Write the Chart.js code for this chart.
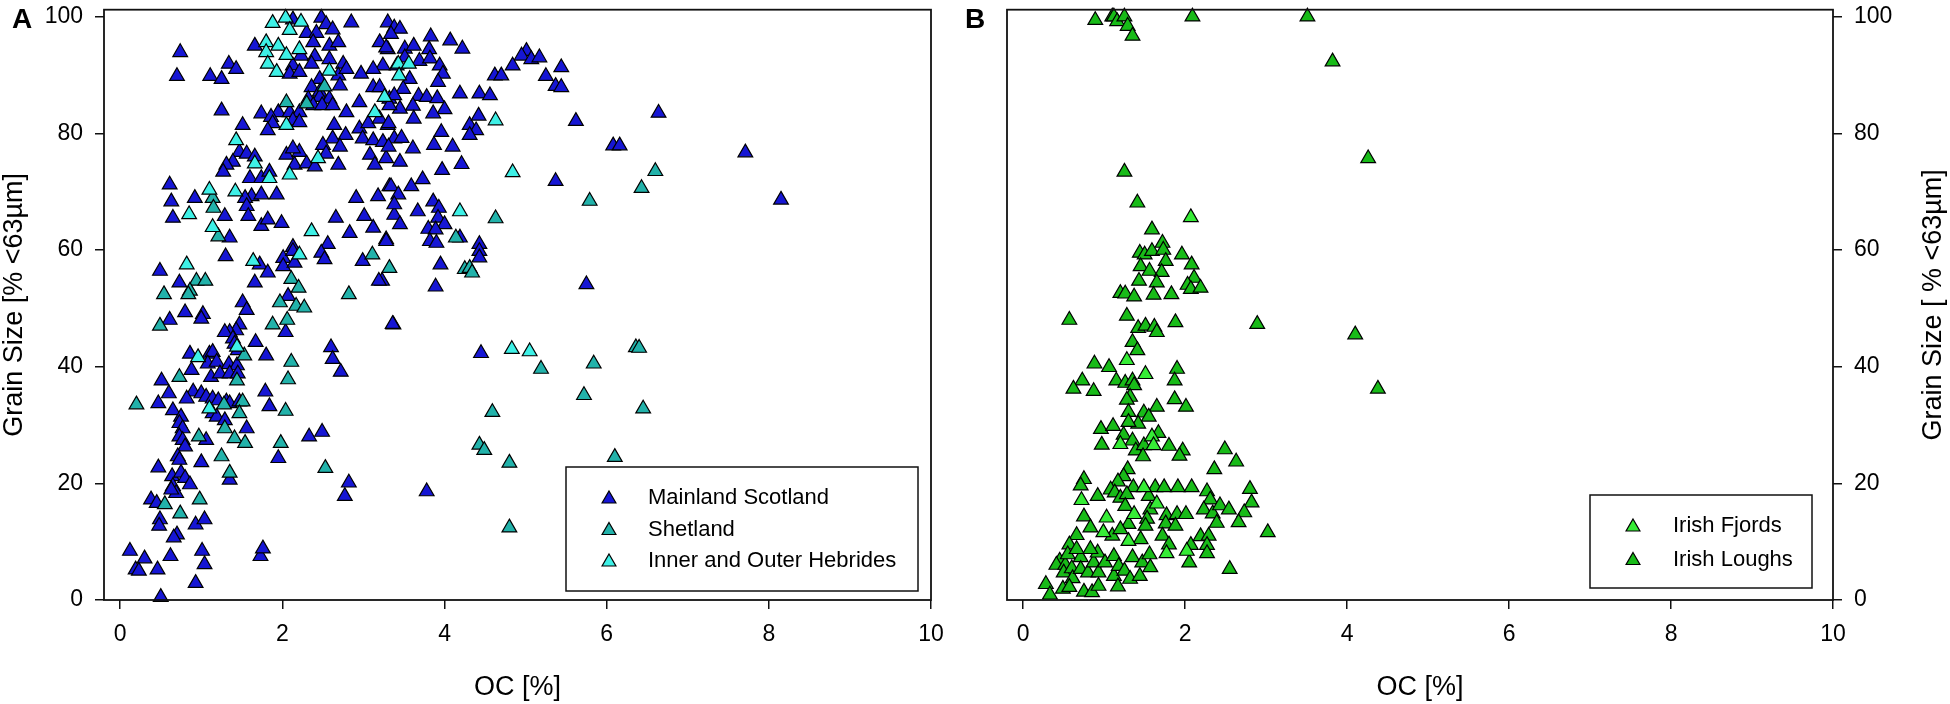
<!DOCTYPE html>
<html>
<head>
<meta charset="utf-8">
<script src="https://cdn.jsdelivr.net/npm/chart.js@4.4.1/dist/chart.umd.min.js"></script>
<style>
  html, body { margin: 0; padding: 0; background: #fff; }
  #wrap { position: relative; width: 1950px; height: 704px; }
  #chartA { position: absolute; left: 0; top: 0; }
  #chartB { position: absolute; left: 960px; top: 0; }
</style>
</head>
<body>
<div id="wrap">
  <canvas id="chartA" width="960" height="704"></canvas>
  <canvas id="chartB" width="990" height="704"></canvas>
</div>
<script>
// ---- data: [OC %, grain size % <63um] ----
const mainlandScotland = [
  [0.74,93.9],[0.70,89.8],[1.11,89.8],[1.25,89.3],[1.34,91.9],[1.43,91.0],[1.25,83.9],
  [1.66,95.0],[2.13,99.5],[2.30,97.2],[2.48,99.8],[2.42,97.2],[2.54,98.7],[2.62,97.8],[2.85,99.0],
  [2.38,95.6],[2.58,95.0],[2.69,95.6],[2.23,93.3],[2.40,93.2],[2.58,92.7],[2.13,91.6],[2.36,91.9],[2.75,91.9],
  [2.09,90.2],[2.21,90.5],[2.46,89.3],[2.69,89.9],[2.79,91.0],[2.97,90.2],[2.36,87.9],[2.46,87.1],[2.71,88.2],
  [2.32,85.9],[2.46,86.2],[2.58,85.9],[1.95,83.6],[2.09,83.6],[2.21,83.6],[2.38,84.8],[2.49,84.8],[2.62,84.8],
  [1.74,83.4],[1.86,82.8],[1.88,81.7],[2.13,82.2],[2.21,81.9],[1.51,81.4],[1.82,80.5],[2.64,81.4],[2.78,79.7],
  [2.95,85.3],[2.79,83.6],[3.12,87.9],[3.20,87.9],[3.32,85.9],[2.95,80.8],[3.06,81.7],[3.20,82.5],[3.30,81.4],
  [2.99,79.1],[3.12,78.8],[3.24,78.5],[3.38,79.1],[3.08,76.3],[3.14,74.6],[3.28,75.7],
  [2.62,79.1],[2.50,78.0],[2.71,77.7],[2.54,76.5],[2.05,76.3],[2.21,76.8],[2.15,74.6],[2.30,74.8],[2.40,74.3],[2.69,74.6],
  [2.91,68.9],[3.18,69.2],[3.32,70.9],
  [1.47,76.8],[1.39,75.1],[1.31,74.6],[1.27,73.4],[1.56,76.5],[1.66,76.0],[1.60,72.3],[1.74,72.3],[1.84,73.4],
  [1.62,69.2],[1.74,69.5],[1.93,69.5],[1.54,68.9],[1.56,67.5],[1.29,65.8],[1.58,65.8],[1.74,64.1],[1.82,65.2],[1.99,64.6],[1.35,62.1],
  [2.13,77.4],[0.61,71.2],[0.63,68.3],[0.65,65.5],[0.92,68.9],
  [2.13,60.5],[2.56,61.0],[2.66,65.5],[2.83,62.9],[3.01,65.8],[3.12,63.8],[3.28,61.8],[3.38,66.0],
  [3.30,99.0],[3.38,98.1],[3.20,95.6],[3.30,94.4],[3.24,91.6],[3.41,91.6],[3.12,91.0],
  [3.45,97.9],[3.34,97.0],[3.83,96.6],[4.07,95.9],[4.22,94.5],[3.28,94.7],[3.51,94.5],[3.62,95.0],[3.81,94.4],
  [3.51,93.0],[3.69,92.4],[3.82,92.8],[3.94,91.6],[3.98,90.2],[3.92,88.8],[3.57,89.3],[3.49,87.6],[3.38,86.5],
  [3.68,86.4],[3.78,86.2],[3.91,86.0],[4.00,84.1],[3.61,84.7],[3.45,84.2],[3.32,84.8],[3.86,83.4],[3.62,82.5],[3.31,81.7],
  [4.19,86.8],[4.43,86.8],[4.56,86.5],[4.31,81.4],[4.42,83.0],[4.39,80.5],[4.31,79.7],[3.96,80.2],
  [3.47,79.2],[3.31,77.7],[3.61,77.4],[3.87,78.0],[4.10,77.7],[3.45,75.1],[3.97,73.7],[4.21,74.7],[3.73,72.1],
  [3.59,70.9],[3.34,70.9],[3.43,69.5],[3.38,67.8],[3.67,66.6],[3.86,68.3],[3.93,67.2],[3.92,65.5],[4.00,64.4],[3.45,64.4],
  [3.28,61.5],[3.80,63.6],[3.89,63.5],[3.82,61.5],[3.90,61.2],[4.19,62.1],[4.43,61.0],
  [5.37,71.8],[5.62,82.1],[6.64,83.5],[6.08,77.9],[6.16,77.9],[7.71,76.7],[8.15,68.6],
  [5.01,94.1],[4.95,93.3],[5.07,92.7],[5.17,93.0],[4.84,91.6],[5.44,91.3],[4.62,89.9],[4.70,89.9],[5.25,89.8],[5.37,88.1],[5.44,87.9],
  [3.95,57.5],[4.43,59.8],[4.43,58.7],[3.23,54.7],[3.89,53.7],[5.75,54.1],[3.37,47.2],[4.45,42.3],[3.78,18.6],
  [0.49,56.4],[0.73,54.4],[1.30,58.9],[1.72,57.5],[1.82,56.1],[1.66,54.4],[2.01,58.6],[2.13,59.8],[2.01,57.2],[2.15,57.8],
  [2.48,59.5],[2.52,58.4],[2.99,58.1],[3.19,54.7],[3.36,47.3],[2.07,52.1],[1.51,51.0],[1.56,49.7],[0.80,49.3],[1.02,49.0],[1.00,48.2],[0.61,48.0],
  [2.04,45.9],[1.47,47.2],[1.43,46.2],[1.35,45.9],[1.29,45.9],[1.39,44.8],[1.41,43.9],[1.45,42.8],[1.67,44.2],[1.80,41.9],
  [0.86,42.2],[1.10,42.2],[1.14,42.5],[1.08,40.5],[1.19,40.8],[1.34,40.4],[1.44,40.2],[0.88,39.4],[1.12,38.2],[1.23,38.8],[1.35,38.8],[1.45,38.8],
  [0.51,37.6],[2.60,43.3],[2.62,41.3],[2.72,39.1],[1.79,35.7],[0.60,35.4],[0.90,35.7],[1.00,35.4],[1.06,34.8],[1.14,34.5],[1.21,34.2],[1.31,34.0],[1.35,33.7],[1.47,34.0],
  [0.47,33.7],[0.82,34.5],[1.84,33.2],[0.65,32.5],[0.75,31.4],[0.73,30.3],[0.77,29.4],[1.14,32.0],[1.19,31.4],[1.29,30.8],[1.56,29.4],
  [0.73,28.0],[0.77,27.4],[0.80,26.3],[0.71,24.6],[0.73,24.0],[1.06,27.4],[2.33,28.0],[2.49,28.8],[1.95,24.3],[1.00,23.6],[0.47,22.7],
  [0.64,21.2],[0.75,21.8],[0.80,20.9],[0.86,19.8],[1.35,20.6],[0.65,19.5],[0.69,18.3],[2.82,20.1],[2.77,17.8],[0.38,17.2],[0.45,16.6],
  [0.63,18.9],[0.49,13.8],[0.48,12.7],[0.93,12.9],[1.04,13.8],[0.70,11.2],[0.66,10.7],[0.12,8.4],[0.30,7.1],[0.19,5.2],[0.23,5.0],
  [0.46,5.2],[0.62,7.5],[1.01,8.4],[1.04,6.1],[0.93,2.9],[0.50,0.5],[1.73,7.5],[1.76,8.8]
];
const shetland = [
  [2.52,88.0],[2.05,85.3],[2.30,85.1],[1.14,68.9],[1.15,67.2],[1.21,62.3],
  [4.14,62.1],[4.63,65.4],[6.60,73.5],[6.43,70.6],[5.79,68.4],
  [3.32,56.9],[4.25,56.7],[4.31,56.9],[4.34,56.1],[5.19,39.6],[5.84,40.5],[6.36,43.3],[6.40,43.2],[5.72,35.1],[6.45,32.8],
  [4.59,32.2],[4.43,26.6],[4.49,25.7],[4.80,23.5],[6.10,24.5],
  [0.94,54.7],[1.05,54.7],[0.86,53.0],[0.84,52.4],[0.54,52.4],[3.11,59.2],[2.82,52.4],[2.11,55.0],[2.20,53.5],[1.97,51.0],[2.17,50.4],[2.27,50.1],
  [0.49,47.0],[1.88,47.2],[2.06,48.0],[1.53,41.9],[2.11,40.8],[0.73,38.2],[1.44,37.6],[2.07,37.8],[1.51,34.0],[1.28,33.5],[0.20,33.5],[2.04,32.4],
  [1.47,32.0],[1.29,29.4],[0.97,28.0],[1.41,27.7],[1.54,26.9],[1.98,26.9],[1.25,24.6],[1.35,21.8],[2.53,22.6],[0.55,16.4],[0.98,17.2],[0.74,14.8],[4.80,12.4]
];
const hebrides = [
  [1.88,98.9],[2.04,99.8],[1.80,95.6],[1.95,95.0],[2.09,97.7],[2.23,99.1],[1.80,93.9],[1.82,91.9],[1.93,90.5],[2.05,93.4],[2.21,94.4],[2.58,90.7],
  [2.05,81.4],[3.26,86.2],[3.14,83.6],[1.43,78.8],[1.66,74.8],[1.84,72.3],[2.09,72.9],[2.44,75.7],[2.36,63.2],[1.10,70.3],[0.85,66.1],[1.42,70.0],[1.14,63.9],
  [3.43,91.9],[3.56,91.9],[3.44,89.9],[4.63,82.2],[4.19,66.6],[4.84,73.3],
  [4.83,43.0],[5.05,42.6],[0.82,57.5],[1.64,58.1],[2.21,59.2],[1.44,43.4],[0.96,41.6],[1.10,32.8]
];
const irishFjords = [
  [2.07,65.6],[1.51,38.7],[1.28,41.1],[1.03,14.1],[1.77,8.0],[0.72,17.1],[1.49,19.3],[1.65,16.5],
  [1.20,26.7],[1.59,28.0],[0.99,11.6],[1.30,10.1],[2.02,8.4],[1.37,14.7],[1.61,26.5]
];
const irishLoughs = [
  [0.89,99.4],[1.10,100],[1.12,100],[1.16,99.2],[1.25,100],[1.29,98.4],[1.35,96.7],[2.09,100],[3.51,100],[3.82,92.3],[4.26,75.7],
  [1.25,73.4],[1.41,68.1],[1.59,63.5],[1.72,61.2],[1.44,59.5],[1.50,59.2],[1.59,59.8],[1.73,60.0],[1.96,59.2],
  [1.76,58.1],[1.45,57.2],[1.56,56.4],[1.71,56.2],[2.08,57.5],[1.43,54.7],[1.65,54.4],[2.11,55.2],[2.03,54.0],[2.07,53.3],[2.19,53.5],
  [1.20,52.6],[1.26,52.5],[1.37,52.0],[1.61,52.3],[1.83,52.4],
  [0.57,48.0],[1.28,48.7],[1.88,47.6],[2.89,47.3],[4.10,45.5],[4.38,36.2],[1.42,46.6],[1.51,47.0],[1.62,46.8],[1.65,45.9],
  [1.35,44.2],[1.41,42.8],[0.88,40.5],[1.06,39.9],[1.90,39.6],[0.73,37.6],[1.15,37.6],[1.26,37.2],[1.35,37.6],[1.37,36.8],[1.87,37.6],
  [0.62,36.2],[0.87,35.8],[1.32,34.8],[1.28,34.3],[1.87,34.4],[2.01,33.1],[1.65,33.1],[1.30,32.2],[1.49,32.1],[1.55,31.4],[1.42,30.2],[1.30,30.5],
  [0.96,29.3],[1.11,29.8],[1.24,28.3],[1.67,28.6],[0.97,26.6],[1.35,27.3],[1.39,25.6],[1.49,26.5],[1.48,24.6],[1.80,26.4],
  [1.97,25.6],[1.93,24.7],[2.49,25.8],[2.63,23.7],[2.36,22.4],[1.29,22.4],[1.24,21.2],[1.17,20.3],[0.75,20.7],[0.71,19.6],[1.08,18.9],[1.13,18.4],
  [1.36,19.3],[1.63,19.3],[1.74,19.3],[1.91,19.3],[2.08,19.3],[2.27,18.6],[2.80,19.0],[0.92,17.8],[1.20,17.5],[1.28,18.1],[1.26,16.1],
  [1.55,17.8],[1.57,15.5],[2.31,17.2],[2.23,15.5],[2.34,14.8],[2.43,16.2],[2.54,15.5],[2.82,16.7],[2.73,15.0],[2.39,13.2],[2.66,13.3],[3.02,11.6],
  [0.75,14.3],[0.83,12.4],[1.30,13.0],[1.53,13.9],[1.51,12.7],[1.77,14.5],[1.76,13.1],[1.90,14.7],[1.88,12.7],[2.01,14.7],
  [0.66,11.1],[0.57,9.5],[1.10,11.0],[1.20,12.1],[1.45,10.4],[1.72,11.0],[1.80,9.5],[2.07,9.4],[2.05,6.4],
  [2.19,10.9],[2.29,11.0],[2.27,9.4],[2.27,8.0],[2.55,5.3],
  [0.45,6.7],[0.41,6.0],[0.52,6.0],[0.50,4.7],[0.60,5.4],[0.61,3.7],[0.71,7.3],[0.71,5.3],[0.80,4.7],[0.87,6.4],[0.92,8.1],[0.93,4.7],
  [1.01,6.4],[1.12,7.5],[1.12,4.1],[1.18,5.8],[1.25,5.0],[1.35,7.3],[1.32,3.6],[1.47,6.4],[1.44,4.1],[1.56,7.8],[1.57,5.6],
  [0.28,2.7],[0.33,0.9],[0.49,1.9],[0.57,2.2],[0.75,1.4],[0.85,1.3],[0.93,2.4],[1.17,2.3],[0.55,7.8],[0.66,8.7],[0.83,8.7]
];

const ocTicks = [0, 2, 4, 6, 8, 10];
const grainTicks = [0, 20, 40, 60, 80, 100];
const labelsA = ['Mainland Scotland', 'Shetland', 'Inner and Outer Hebrides'];
const labelsB = ['Irish Fjords', 'Irish Loughs'];
const coloursA = ['#1616d4', '#22b2aa', '#3ef0e6'];
const coloursB = ['#36ec36', '#18bb18'];

const FONT = 'Arial, "Liberation Sans", sans-serif';
Chart.defaults.font.family = FONT;
Chart.defaults.color = '#000';

function toPoints(pairs) {
    return pairs.map(([x, y]) => ({ x: x, y: y }));
}

function makeDataset(label, pairs, colour, order) {
    return {
        label: label,
        data: toPoints(pairs),
        pointStyle: 'triangle',
        pointRadius: 8.5,
        backgroundColor: colour,
        borderColor: '#000',
        borderWidth: 1.2,
        order: order,
        clip: false
    };
}

// frame, in-plot legend box, panel letter and (for B) the right-hand title
const panelDecor = {
    id: 'panelDecor',
    afterDatasetsDraw(chart, args, opts) {
        const { ctx, chartArea: a } = chart;
        ctx.save();
        ctx.strokeStyle = '#111';
        ctx.lineWidth = 1.8;
        ctx.strokeRect(a.left, a.top, a.right - a.left, a.bottom - a.top);

        const lg = opts.legend;
        ctx.fillStyle = '#fff';
        ctx.fillRect(lg.left, lg.top, lg.right - lg.left, lg.bottom - lg.top);
        ctx.lineWidth = 1.5;
        ctx.strokeRect(lg.left, lg.top, lg.right - lg.left, lg.bottom - lg.top);
        chart.data.datasets.forEach((ds, i) => {
            const y = lg.firstRow + i * lg.rowGap;
            ctx.fillStyle = ds.backgroundColor;
            ctx.strokeStyle = '#000';
            ctx.lineWidth = 1.2;
            Chart.helpers.drawPoint(ctx, { pointStyle: 'triangle', radius: 8, borderWidth: 1.2, rotation: 0 }, lg.markerX, y + 1);
            ctx.fillStyle = '#000';
            ctx.font = '22px ' + FONT;
            ctx.textAlign = 'left';
            ctx.textBaseline = 'middle';
            ctx.fillText(ds.label, lg.textX, y);
        });

        ctx.fillStyle = '#000';
        ctx.font = 'bold 28px ' + FONT;
        ctx.textAlign = 'center';
        ctx.textBaseline = 'middle';
        ctx.fillText(opts.letter, opts.letterX, 20);

        if (opts.rightTitle) {
            ctx.translate(opts.rightTitleX, (a.top + a.bottom) / 2);
            ctx.rotate(-Math.PI / 2);
            ctx.font = '27px ' + FONT;
            ctx.fillText(opts.rightTitle, 0, 0);
        }
        ctx.restore();
    }
};

function xScale() {
    return {
        type: 'linear',
        position: 'bottom',
        min: -0.2,
        max: 10,
        afterBuildTicks: s => { s.ticks = ocTicks.map(v => ({ value: v })); },
        afterFit: s => { s.height = 104; s.paddingLeft = 0; s.paddingRight = 0; },
        grid: { drawOnChartArea: false, tickLength: 9, color: '#111', lineWidth: 1.5 },
        border: { display: false },
        ticks: { padding: 12, color: '#000', font: { size: 23 }, maxRotation: 0, autoSkip: false },
        title: { display: true, text: 'OC [%]', color: '#000', font: { size: 27, lineHeight: 1 }, padding: { top: 0, bottom: 3 } }
    };
}

function yScale(position, width, showTitle) {
    return {
        type: 'linear',
        position: position,
        min: 0,
        max: 101.2,
        afterBuildTicks: s => { s.ticks = grainTicks.map(v => ({ value: v })); },
        afterFit: s => { s.width = width; s.paddingTop = 0; s.paddingBottom = 0; },
        grid: { drawOnChartArea: false, tickLength: 9, color: '#111', lineWidth: 1.5 },
        border: { display: false },
        ticks: { padding: 12, color: '#000', font: { size: 23 }, autoSkip: false },
        title: { display: showTitle, text: 'Grain Size [% <63µm]', color: '#000', font: { size: 27, lineHeight: 1 }, padding: { top: 1, bottom: 0 } }
    };
}

const commonOptions = {
    responsive: false,
    animation: false,
    events: [],
    plugins: { legend: { display: false }, tooltip: { enabled: false } }
};

new Chart(document.getElementById('chartA').getContext('2d'), {
    type: 'scatter',
    data: {
        datasets: [
            makeDataset(labelsA[0], mainlandScotland, coloursA[0], 3),
            makeDataset(labelsA[1], shetland, coloursA[1], 2),
            makeDataset(labelsA[2], hebrides, coloursA[2], 1)
        ]
    },
    options: {
        ...commonOptions,
        layout: { padding: { left: 0, top: 6, right: 29, bottom: 0 } },
        scales: { x: xScale(), y: yScale('left', 104, true) },
        plugins: {
            ...commonOptions.plugins,
            panelDecor: {
                letter: 'A', letterX: 22,
                legend: { left: 566, top: 467, right: 918, bottom: 591, markerX: 609, textX: 648, firstRow: 498, rowGap: 31.5 }
            }
        }
    },
    plugins: [panelDecor]
});

new Chart(document.getElementById('chartB').getContext('2d'), {
    type: 'scatter',
    data: {
        datasets: [
            makeDataset(labelsB[0], irishFjords, coloursB[0], 1),
            makeDataset(labelsB[1], irishLoughs, coloursB[1], 2)
        ]
    },
    options: {
        ...commonOptions,
        layout: { padding: { left: 47, top: 6, right: 0, bottom: 0 } },
        scales: { x: xScale(), y: yScale('right', 117, false) },
        plugins: {
            ...commonOptions.plugins,
            panelDecor: {
                letter: 'B', letterX: 15,
                rightTitle: 'Grain Size [ % <63µm]', rightTitleX: 974,
                legend: { left: 630, top: 495, right: 852, bottom: 588, markerX: 673, textX: 713, firstRow: 526, rowGap: 33.5 }
            }
        }
    },
    plugins: [panelDecor]
});
</script>
</body>
</html>
